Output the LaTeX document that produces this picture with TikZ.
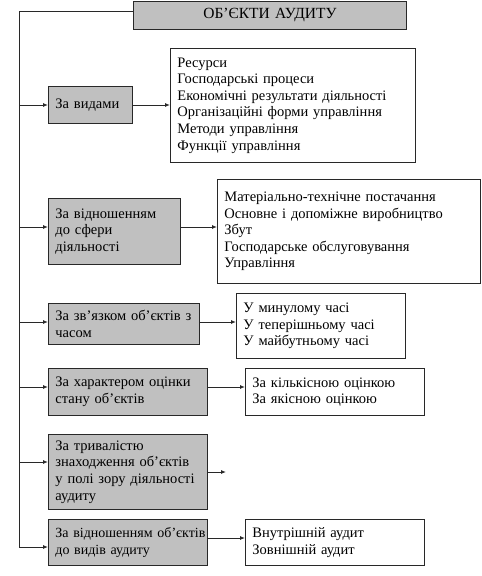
\documentclass[tikz,border=0pt]{standalone}
\usepackage{fontspec}
\setmainfont{Liberation Serif}
\usetikzlibrary{arrows.meta}
\definecolor{boxgray}{RGB}{192,192,192}
\definecolor{edge}{RGB}{40,40,40}
\tikzset{
  base/.style={draw=edge, line width=0.9pt, anchor=north west, align=left, inner xsep=7pt, inner ysep=0pt,
    font=\fontsize{14.5pt}{16.6pt}\selectfont},
  graybox/.style={base, fill=boxgray},
  whitebox/.style={base, fill=white},
  conn/.style={draw=edge, line width=0.9pt},
  arr/.style={conn, -{Latex[length=5pt,width=4pt]}}
}
\begin{document}
\begin{tikzpicture}[x=1pt,y=1pt]
\useasboundingbox (0,0) rectangle (482,-576);
% title
\node[graybox, align=center, minimum width=273pt, minimum height=28pt, text width=259pt, font=\fontsize{15.5pt}{17pt}\selectfont] (title) at (133,-1) {ОБ'ЄКТИ АУДИТУ};
% left boxes
\node[graybox, minimum width=84pt, minimum height=37pt, text width=70pt] (b1) at (48,-86) {За видами};
\node[graybox, minimum width=132pt, minimum height=66pt, text width=118pt] (b2) at (48,-198) {За відношенням\\до сфери\\діяльності};
\node[graybox, minimum width=151pt, minimum height=41pt, text width=137pt] (b3) at (48,-303) {\mbox{За зв’язком об’єктів з}\\часом};
\node[graybox, minimum width=159pt, minimum height=47pt, text width=145pt] (b4) at (48,-368) {За характером оцінки\\стану об’єктів};
\node[graybox, minimum width=159pt, minimum height=75pt, text width=145pt] (b5) at (48,-434) {За тривалістю\\знаходження об’єктів\\у полі зору діяльності\\аудиту};
\node[graybox, minimum width=159pt, minimum height=46pt, text width=145pt, font=\fontsize{14pt}{16.6pt}\selectfont] (b6) at (48,-519) {\mbox{За відношенням об'єктів}\\до видів аудиту};
% right boxes
\node[whitebox, minimum width=245pt, minimum height=114pt, text width=231pt] (r1) at (170,-48) {Ресурси\\Господарські процеси\\Економічні результати діяльності\\Організаційні форми управління\\Методи управління\\Функції управління};
\node[whitebox, minimum width=263pt, minimum height=104pt, text width=249pt] (r2) at (217,-179) {Матеріально-технічне постачання\\Основне і допоміжне виробництво\\Збут\\Господарське обслуговування\\Управління\\[14pt]};
\node[whitebox, minimum width=169pt, minimum height=65pt, text width=155pt] (r3) at (236,-293) {У минулому часі\\У теперішньому часі\\У майбутньому часі};
\node[whitebox, minimum width=179pt, minimum height=47pt, text width=165pt] (r4) at (245,-368) {За кількісною оцінкою\\За якісною оцінкою};
\node[whitebox, minimum width=179pt, minimum height=46pt, text width=165pt] (r6) at (245,-519) {Внутрішній аудит\\Зовнішній аудит};
% trunk
\coordinate (top) at (19,-11);
\coordinate (t1) at (19,-105);
\coordinate (t2) at (19,-227);
\coordinate (t3) at (19,-322);
\coordinate (t4) at (19,-387);
\coordinate (t5) at (19,-462);
\coordinate (t6) at (19,-547);
\draw[conn] (top -| title.west) -- (top) -- (t6);
\draw[arr] (t1) -- (t1 -| b1.west);
\draw[arr] (t2) -- (t2 -| b2.west);
\draw[arr] (t3) -- (t3 -| b3.west);
\draw[arr] (t4) -- (t4 -| b4.west);
\draw[arr] (t5) -- (t5 -| b5.west);
\draw[arr] (t6) -- (t6 -| b6.west);
% right arrows
\coordinate (s1) at (0,-105);
\coordinate (s2) at (0,-227);
\coordinate (s3) at (0,-322);
\coordinate (s4) at (0,-387);
\coordinate (s5) at (226,-472);
\coordinate (s6) at (0,-538);
\draw[arr] (s1 -| b1.east) -- (s1 -| r1.west);
\draw[arr] (s2 -| b2.east) -- (s2 -| r2.west);
\draw[arr] (s3 -| b3.east) -- (s3 -| r3.west);
\draw[arr] (s4 -| b4.east) -- (s4 -| r4.west);
\draw[arr] (s5 -| b5.east) -- (s5);
\draw[arr] (s6 -| b6.east) -- (s6 -| r6.west);
\end{tikzpicture}
\end{document}
